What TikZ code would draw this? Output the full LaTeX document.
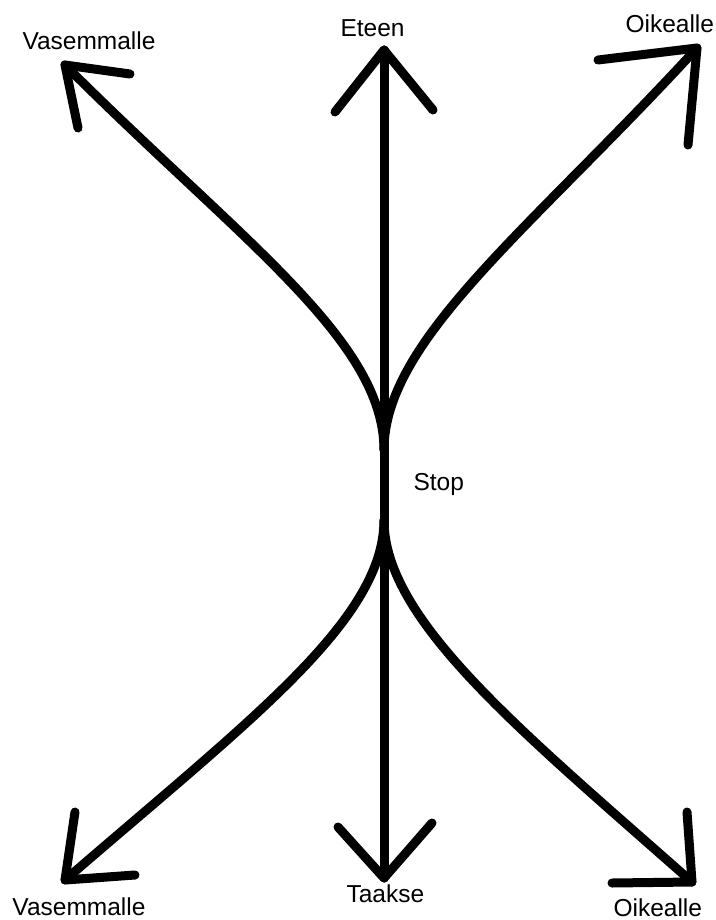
\documentclass[tikz,border=0pt]{standalone}
\usepackage{fontspec}
\setmainfont{Liberation Sans}
\begin{document}
\begin{tikzpicture}[x=1pt,y=-1pt,line width=9pt,line cap=round,line join=round,
	dirtext/.style={anchor=base west,inner sep=0pt,font=\fontsize{24.5}{29}\selectfont}]
	\useasboundingbox (0,0) rectangle (715,920);
	% waist and tips
	\coordinate (waistup) at (384,450);
	\coordinate (waistdown) at (384,520);
	\coordinate (eteen) at (384,50);
	\coordinate (taakse) at (384,878);
	\coordinate (vasylos) at (65,65);
	\coordinate (oikylos) at (697,48);
	\coordinate (vasalas) at (65,880);
	\coordinate (oikalas) at (692,882);
	% texts
	\node[dirtext] (lvasylos) at (18,50) {Vasemmalle};
	\node[dirtext] (leteen) at (336,37) {Eteen};
	\node[dirtext] (loikylos) at (621,33) {Oikealle};
	\node[dirtext] (lstop) at (409,490) {Stop};
	\node[dirtext] (lvasalas) at (8,915) {Vasemmalle};
	\node[dirtext] (ltaakse) at (342,902) {Taakse};
	\node[dirtext] (loikalas) at (609,916) {Oikealle};
	% shafts
	\draw (eteen) -- (taakse);
	\draw (waistup) .. controls (384,340) and (240,240) .. (vasylos);
	\draw (waistup) .. controls (384,340) and (530,230) .. (oikylos);
	\draw (waistdown) .. controls (384,620) and (250,720) .. (vasalas);
	\draw (waistdown) .. controls (384,620) and (520,730) .. (oikalas);
	% heads
	\foreach \tip/\ax/\ay/\bx/\by in {eteen/335/112/433/110, taakse/338/827/432/823,
		vasylos/130/74/78/128, oikylos/598/60/688/145,
		vasalas/75/812/135/875, oikalas/687/812/612/883}
	{
		\draw (\ax,\ay) -- (\tip) -- (\bx,\by);
	}
\end{tikzpicture}
\end{document}
